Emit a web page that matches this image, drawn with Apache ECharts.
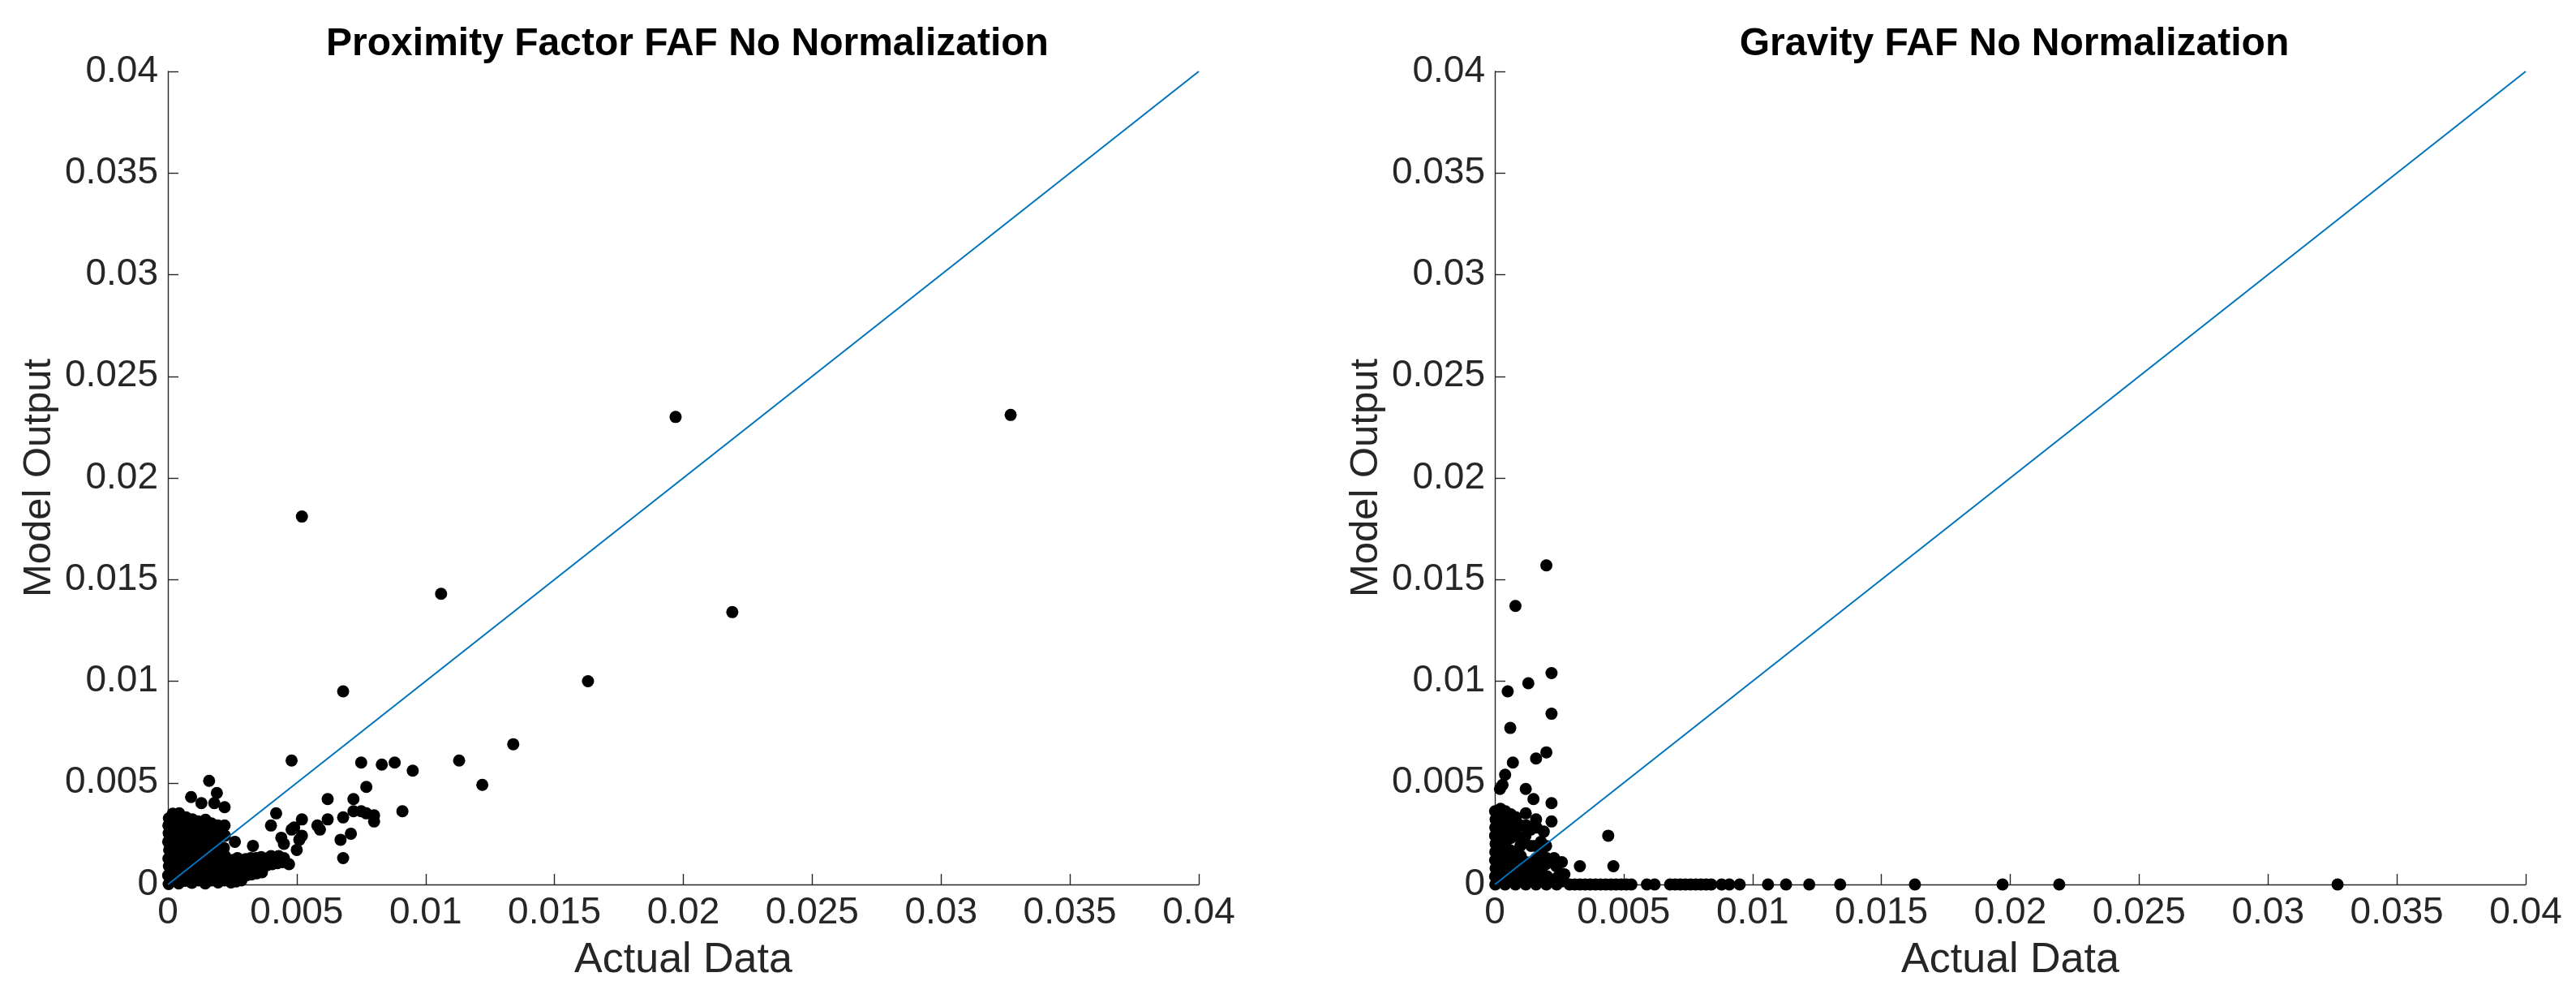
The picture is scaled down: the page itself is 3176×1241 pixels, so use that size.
<!DOCTYPE html>
<html><head><meta charset="utf-8">
<script src="https://cdn.jsdelivr.net/npm/echarts@6/dist/echarts.min.js"></script>
<style>html,body{margin:0;padding:0;background:#fff}#c{width:3176px;height:1241px}</style>
</head><body><div id="c"></div><script>
// ---- data (Actual Data, Model Output) ----
const proxOutliers = [
 [0.0327,0.0231],[0.0197,0.0230],[0.0052,0.0181],[0.0106,0.0143],[0.0219,0.0134],[0.0163,0.0100],
 [0.0068,0.0095],[0.0134,0.0069],[0.0113,0.0061],[0.0122,0.0049],[0.0048,0.0061],[0.0075,0.0060],
 [0.0083,0.0059],[0.0088,0.0060],[0.0095,0.0056],[0.0077,0.0048],[0.0091,0.0036],[0.0062,0.0042],
 [0.0072,0.0042],[0.0062,0.0032],[0.0068,0.0033],[0.0072,0.0036],[0.0075,0.0036],[0.0077,0.0035],
 [0.0080,0.0034],[0.0080,0.0031],[0.0071,0.0025],[0.0067,0.0022],[0.0068,0.0013],[0.0058,0.0029],
 [0.0059,0.0027],[0.0042,0.0035],[0.0040,0.0029],[0.0052,0.0032],[0.0049,0.0028],[0.0048,0.0027],
 [0.0052,0.0024],[0.0051,0.0022],[0.0050,0.0017],[0.0044,0.0023],[0.0045,0.0020],[0.0047,0.0010],
 [0.0045,0.0013],[0.0040,0.0014],[0.0043,0.0014],[0.0033,0.0019],[0.0026,0.0021],[0.0035,0.0012],
 [0.0032,0.0005],[0.0016,0.0051],[0.0019,0.0045],[0.0009,0.0043],[0.0013,0.0040],[0.0018,0.0040],
 [0.0022,0.0038],[0.0021,0.0028],[0.0022,0.0029],[0.0021,0.0016]
];
const proxCluster = [
 [0.00003,0.00002],[0.00001,0.00045],[0.00004,0.0009],[0.00002,0.00128],[0.00005,0.0017],[0.00001,0.0021],[0.00003,0.00252],[0.00002,0.0029],[0.00004,0.00325],
 [0.00018,0.0002],[0.00021,0.00062],[0.00016,0.00102],[0.00019,0.00148],[0.00022,0.00188],[0.00017,0.00232],[0.0002,0.0027],[0.00015,0.0031],[0.00019,0.00348],
 [0.00042,0.00005],[0.00045,0.0004],[0.0004,0.00082],[0.00044,0.0012],[0.00039,0.00158],[0.00043,0.002],[0.00041,0.00238],[0.00046,0.0028],[0.0004,0.00318],[0.00044,0.0035],
 [0.00068,0.00018],[0.00065,0.0006],[0.0007,0.001],[0.00066,0.00142],[0.00069,0.0018],[0.00064,0.0022],[0.00071,0.0026],[0.00067,0.00302],[0.0007,0.0033],
 [0.00093,0.00008],[0.00096,0.0005],[0.00091,0.0009],[0.00095,0.0013],[0.0009,0.00172],[0.00094,0.0021],[0.00097,0.0025],[0.00092,0.0029],[0.00095,0.0032],
 [0.00118,0.0002],[0.00121,0.00062],[0.00116,0.00108],[0.0012,0.0015],[0.00115,0.0019],[0.00119,0.0023],[0.00122,0.0027],[0.00117,0.0031],
 [0.00145,0.00005],[0.00142,0.0004],[0.00147,0.0008],[0.00143,0.0012],[0.00146,0.0016],[0.00141,0.002],[0.00148,0.0024],[0.00144,0.0028],[0.00146,0.00318],
 [0.0017,0.0002],[0.00173,0.0006],[0.00168,0.001],[0.00172,0.0014],[0.00167,0.0019],[0.00171,0.0023],[0.00174,0.0027],[0.00169,0.003],
 [0.00195,0.0001],[0.00192,0.0005],[0.00197,0.0009],[0.00193,0.0013],[0.00196,0.0017],[0.00191,0.0021],[0.00198,0.0025],[0.00194,0.0029],
 [0.0022,0.0002],[0.00223,0.0006],[0.00218,0.001],[0.00222,0.0014],[0.00217,0.0018],[0.00221,0.0024],
 [0.00245,0.0001],[0.00248,0.00045],[0.00242,0.00085],[0.0025,0.0012],
 [0.00265,0.00015],[0.00268,0.00055],[0.00262,0.00095],[0.0027,0.0013],
 [0.00285,0.0002],[0.00288,0.00075],[0.00282,0.00115],
 [0.00305,0.00045],[0.00308,0.00085],[0.00302,0.00125],
 [0.00325,0.0005],[0.00328,0.0009],[0.00322,0.0013],
 [0.00345,0.00055],[0.00348,0.00095],[0.00342,0.0013],
 [0.00365,0.0006],[0.00368,0.001],[0.00362,0.00135],
 [0.00385,0.00095],[0.00388,0.0013],[0.00405,0.001],[0.00408,0.00135],
 [0.00425,0.00105],[0.00428,0.00138],[0.00445,0.0011]
];
const gravOutliers = [
 [0.0020,0.0157],[0.0008,0.0137],[0.0022,0.0104],[0.0013,0.0099],[0.0005,0.0095],[0.0022,0.0084],
 [0.0006,0.0077],[0.0020,0.0065],[0.0016,0.0062],[0.0007,0.0060],[0.0004,0.0054],[0.0003,0.0049],
 [0.0002,0.0047],[0.0012,0.0047],[0.0015,0.0042],[0.0022,0.0040],[0.0012,0.0035],[0.0016,0.0032],
 [0.0022,0.0031],[0.0019,0.0026],[0.0044,0.0024],[0.0046,0.0009],[0.0033,0.0009],[0.0026,0.0011],
 [0.0023,0.0013],[0.0027,0.0005]
];
const gravZeroRow = [
 [0.0029,0],[0.0031,0],[0.0033,0],[0.0035,0],[0.0037,0],[0.0039,0],[0.0041,0],[0.0043,0],[0.0045,0],
 [0.0047,0],[0.0049,0],[0.0051,0],[0.0053,0],[0.0059,0],[0.0062,0],[0.0068,0],[0.0070,0],[0.0072,0],
 [0.0074,0],[0.0076,0],[0.0078,0],[0.0080,0],[0.0082,0],[0.0084,0],[0.0088,0],[0.0091,0],[0.0095,0],
 [0.0106,0],[0.0113,0],[0.0122,0],[0.0134,0],[0.0163,0],[0.0197,0],[0.0219,0],[0.0327,0]
];
const gravCluster = [
 [0.00002,0.0],[0.00001,0.0004],[0.00003,0.0008],[0.00001,0.0012],[0.00002,0.0016],[0.00003,0.002],[0.00001,0.0024],[0.00002,0.0028],[0.00003,0.0032],[0.00001,0.0036],
 [0.0002,0.0002],[0.00023,0.0006],[0.00018,0.001],[0.00021,0.0014],[0.00019,0.0018],[0.00022,0.0022],[0.00018,0.0026],[0.00021,0.003],[0.00019,0.0034],[0.00022,0.00372],
 [0.0004,0.0],[0.00043,0.0004],[0.00038,0.0008],[0.00041,0.0012],[0.00039,0.0016],[0.00042,0.0021],[0.0004,0.0024],[0.00043,0.0028],[0.00039,0.0032],[0.00041,0.0036],
 [0.0006,0.0002],[0.00062,0.0006],[0.00058,0.001],[0.00061,0.0014],[0.00057,0.0017],[0.00063,0.0023],[0.0006,0.0026],[0.00058,0.003],[0.00062,0.00345],
 [0.0008,0.0],[0.00083,0.0004],[0.00078,0.0008],[0.00081,0.0012],[0.00079,0.0016],[0.00084,0.0024],[0.0008,0.0028],[0.00082,0.0033],
 [0.001,0.0002],[0.00102,0.0006],[0.00098,0.001],[0.00101,0.0014],[0.00099,0.0019],[0.00103,0.0022],[0.001,0.0029],
 [0.0012,0.0],[0.00123,0.0004],[0.00118,0.0008],[0.00121,0.0011],[0.00119,0.0024],[0.00122,0.0029],
 [0.0014,0.0002],[0.00142,0.0006],[0.00138,0.001],[0.00141,0.0019],[0.00139,0.0027],
 [0.0016,0.0],[0.00163,0.0004],[0.00158,0.0008],[0.00161,0.0013],[0.00159,0.0019],[0.00162,0.0028],
 [0.0018,0.0002],[0.00182,0.0006],[0.00178,0.001],[0.00181,0.0015],[0.00179,0.0021],
 [0.002,0.0],[0.00203,0.0004],[0.00198,0.001],[0.00201,0.0013],[0.00199,0.0019],
 [0.0022,0.0002],[0.00222,0.0011],[0.0024,0.0],[0.00243,0.00035],[0.00238,0.0009],
 [0.0026,0.00015],[0.00262,0.0005]
];
const axisMin = 0, axisMax = 0.04, tickStep = 0.005;
const diagonal = [[0, 0], [0.04, 0.04]];
const titles = ['Proximity Factor FAF No Normalization', 'Gravity FAF No Normalization'];
const xName = 'Actual Data', yName = 'Model Output';

// ---- chart ----
const FONT = "'Liberation Sans', Arial, Helvetica, sans-serif";
const INK = '#262626';
const grids = [
  {left: 207, top: 88, width: 1271, height: 1002},
  {left: 1843, top: 88, width: 1271, height: 1002}
];
function fmt(v){ return String(+v.toFixed(4)); }
function xAxis(i){ return {
  type:'value', gridIndex:i, min:axisMin, max:axisMax, interval:tickStep,
  name:xName, nameLocation:'middle', nameGap:68,
  nameTextStyle:{fontFamily:FONT, fontSize:52, color:INK},
  axisLine:{show:true, lineStyle:{color:INK, width:1.4}},
  axisTick:{show:true, inside:true, length:13, lineStyle:{color:INK, width:1.4}},
  axisLabel:{fontFamily:FONT, fontSize:46, color:INK, margin:12, formatter:fmt},
  splitLine:{show:false}
};}
function yAxis(i){ return {
  type:'value', gridIndex:i, min:axisMin, max:axisMax, interval:tickStep,
  name:yName, nameLocation:'middle', nameGap:134, nameRotate:90,
  nameTextStyle:{fontFamily:FONT, fontSize:49, color:INK},
  axisLine:{show:true, lineStyle:{color:INK, width:1.4}},
  axisTick:{show:true, inside:true, length:13, lineStyle:{color:INK, width:1.4}},
  axisLabel:{fontFamily:FONT, fontSize:46, color:INK, margin:12, formatter:fmt},
  splitLine:{show:false}
};}
function scatter(i, data){ return {type:'scatter', xAxisIndex:i, yAxisIndex:i, data:data,
  symbol:'circle', symbolSize:15, itemStyle:{color:'#000', opacity:1}, z:2, silent:true}; }
function diag(i){ return {type:'line', xAxisIndex:i, yAxisIndex:i, data:diagonal, symbol:'none',
  lineStyle:{color:'#0072BD', width:2}, z:3, silent:true}; }

const chart = echarts.init(document.getElementById('c'), null, {renderer:'canvas'});
chart.setOption({
  animation:false,
  backgroundColor:'#fff',
  title: titles.map((t,i)=>({text:t, left: grids[i].left + grids[i].width/2, top:26, textAlign:'center',
    textStyle:{fontFamily:FONT, fontSize:48, fontWeight:'bold', color:'#000'}})),
  grid: grids,
  xAxis: [xAxis(0), xAxis(1)],
  yAxis: [yAxis(0), yAxis(1)],
  series: [
    scatter(0, proxCluster.concat(proxOutliers)), diag(0),
    scatter(1, gravCluster.concat(gravOutliers, gravZeroRow)), diag(1)
  ]
});
</script></body></html>
